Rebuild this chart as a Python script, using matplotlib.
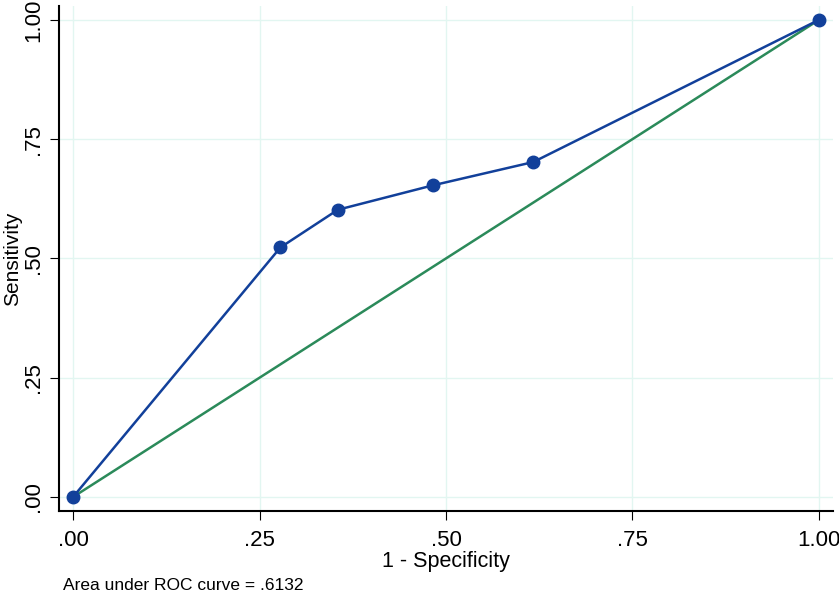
import matplotlib.pyplot as plt

plt.rcParams['font.family'] = ['Liberation Sans', 'DejaVu Sans']

# ROC points (1 - specificity, sensitivity)
fpr = [0.0, 0.278, 0.355, 0.482, 0.617, 1.0]
tpr = [0.0, 0.523, 0.602, 0.653, 0.702, 1.0]
ref = [0.0, 1.0]
ticks = [0.0, 0.25, 0.5, 0.75, 1.0]
tick_labels = ['.00', '.25', '.50', '.75', '1.00']
auc_text = 'Area under ROC curve = .6132'

blue = '#12409a'
green = '#2b8a5a'

fig = plt.figure(figsize=(8.39, 5.94), dpi=100)
ax = fig.add_axes([59/839, 1 - 511/594, (833 - 59)/839, (511 - 6)/594])

ax.plot(ref, ref, color=green, lw=1.8, zorder=2)
ax.plot(fpr, tpr, color=blue, lw=1.8, marker='o', ms=9, zorder=3)

ax.set_xlim(-0.0188, 1.0188)
ax.set_ylim(-0.0293, 1.029)
ax.set_xticks(ticks)
ax.set_xticklabels(tick_labels)
ax.set_yticks(ticks)
ax.set_yticklabels(tick_labels, rotation=90, va='center')
ax.grid(True, color='#e2f6f1', lw=1.0)
ax.set_axisbelow(True)

for s in ['top', 'right']:
    ax.spines[s].set_visible(False)
for s in ['left', 'bottom']:
    ax.spines[s].set_linewidth(1.5)
ax.tick_params(direction='out', length=6.5, width=0.8, labelsize=16)
ax.tick_params(axis='x', pad=7)
ax.tick_params(axis='y', pad=4)

ax.set_xlabel('1 - Specificity', fontsize=15.5, labelpad=0.5)
ax.set_ylabel('Sensitivity', fontsize=15, labelpad=1)

fig.text(63/839, 1 - 590/594, auc_text, fontsize=12.5, va='baseline')

fig.savefig('out.png', dpi=100)
